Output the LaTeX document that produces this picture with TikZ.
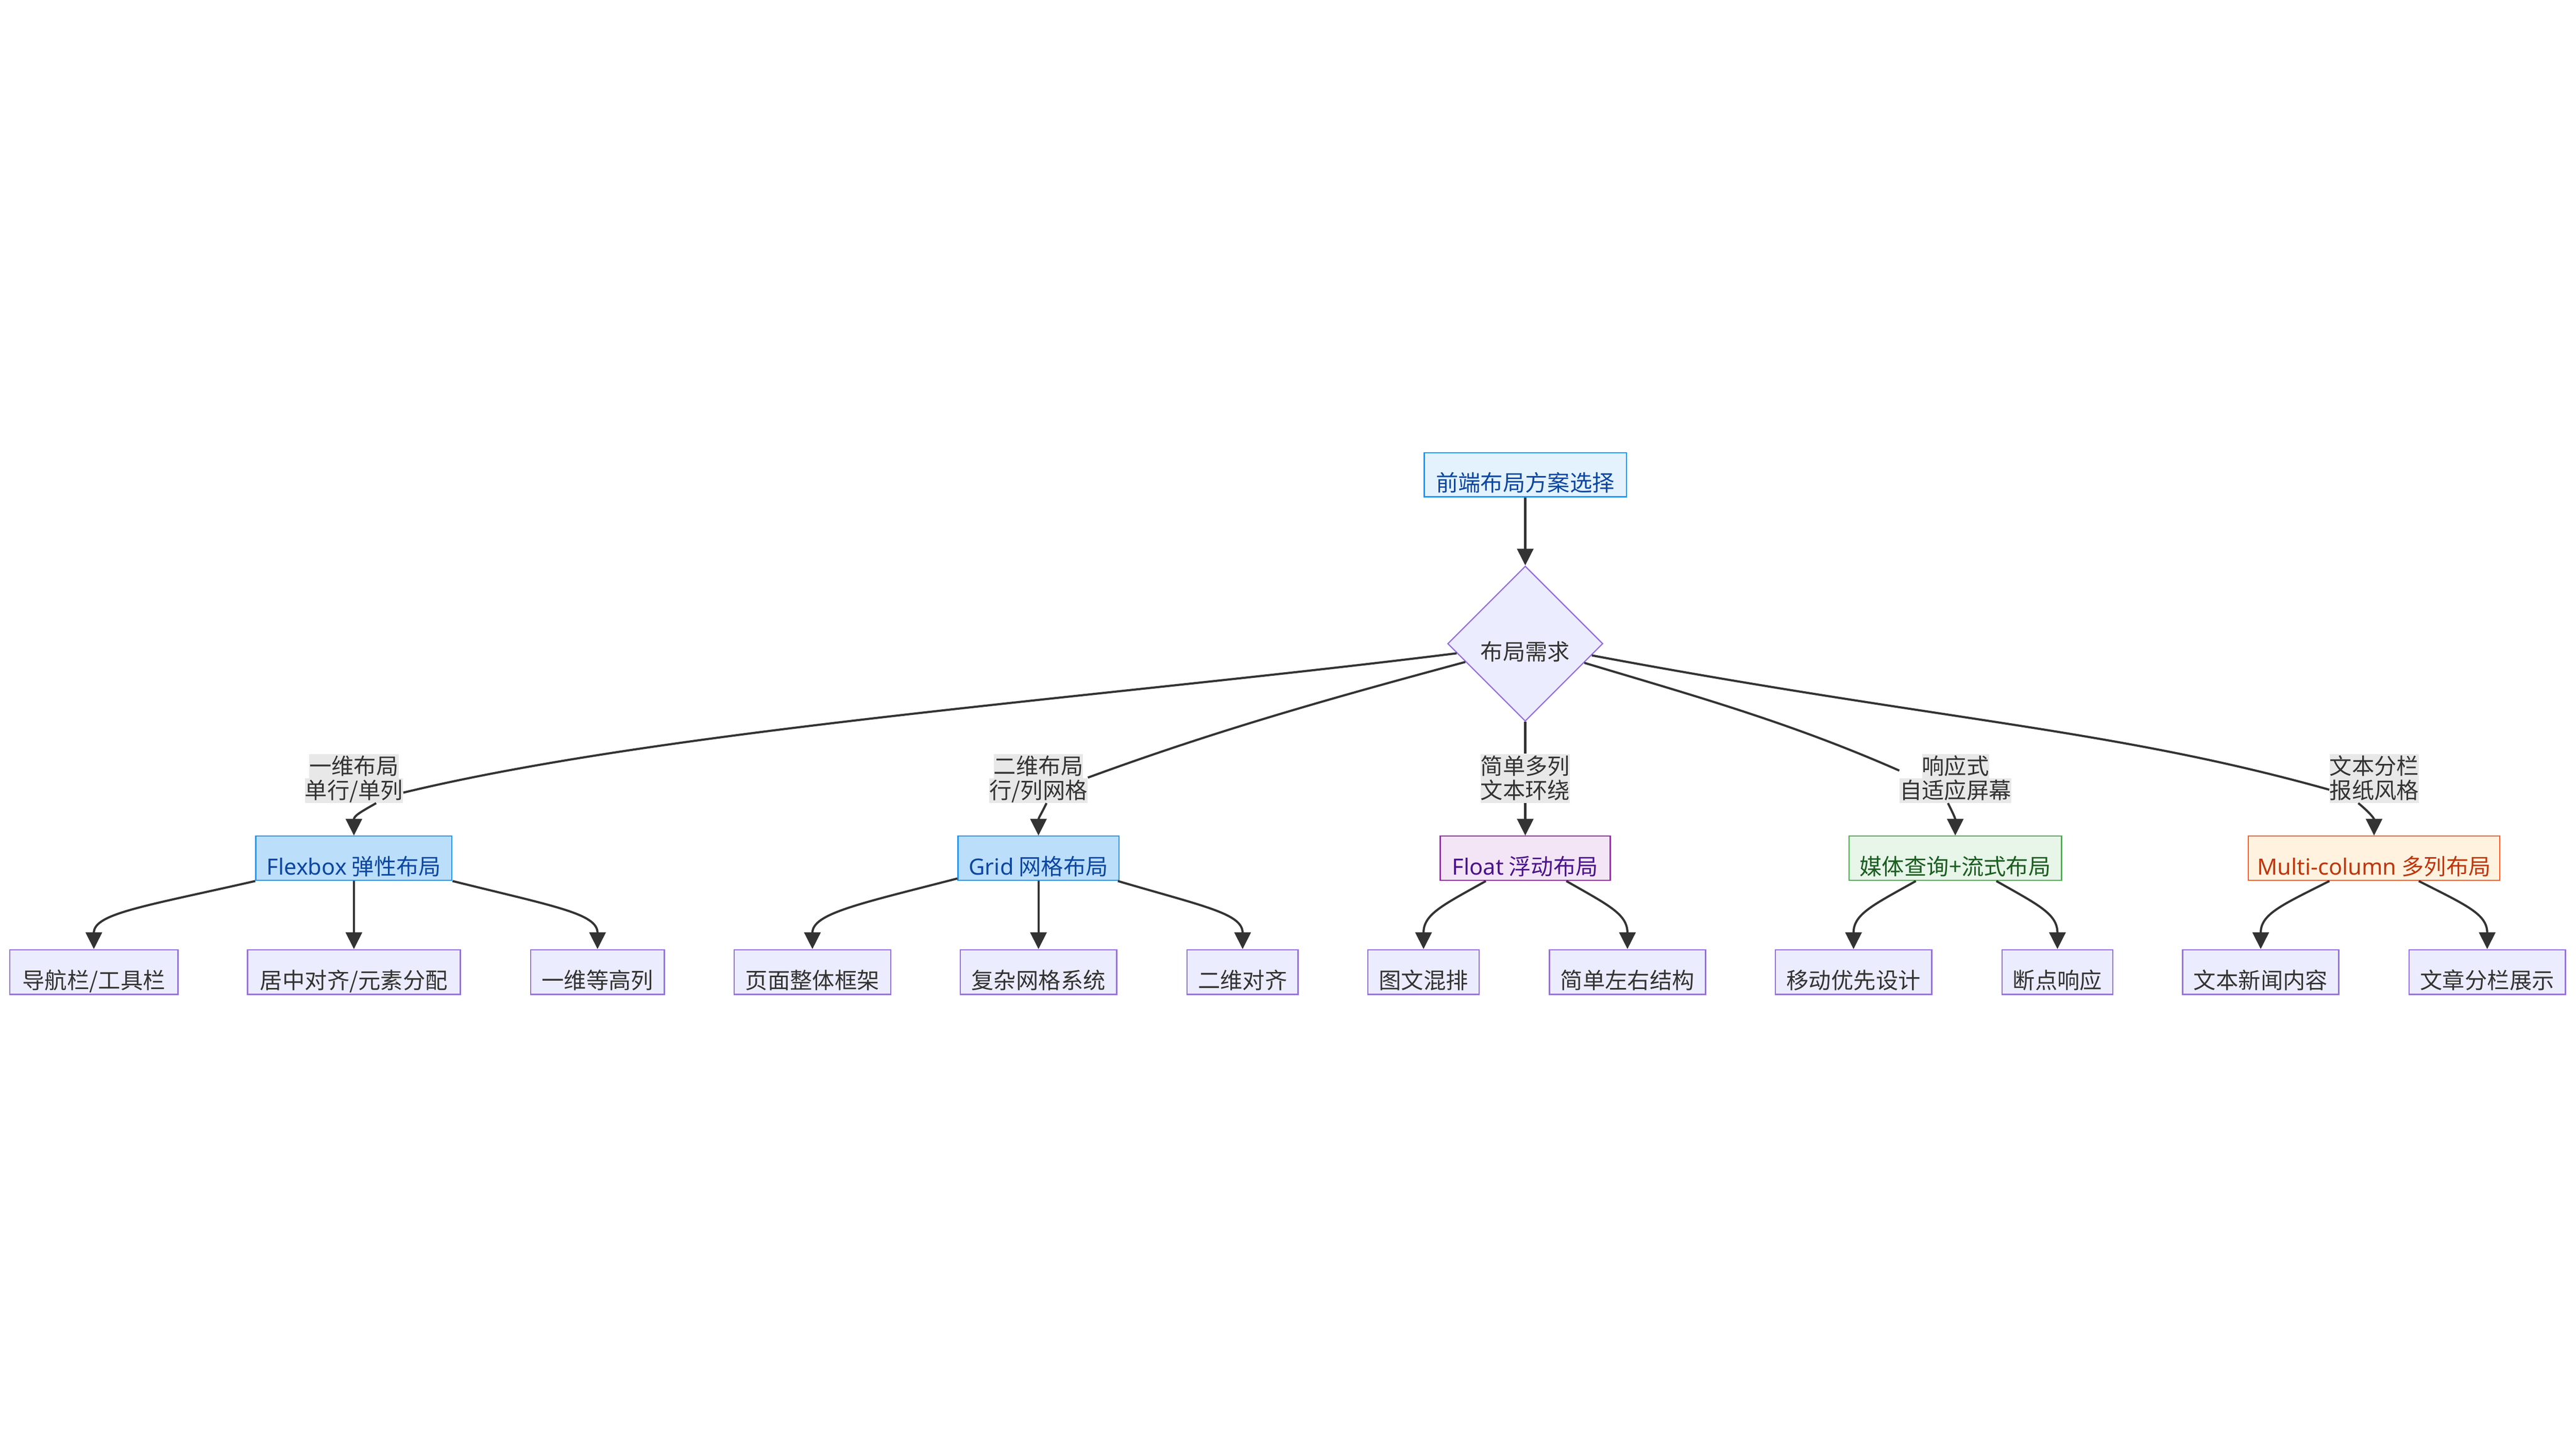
\documentclass[tikz,border=0pt]{standalone}
\usepackage{fontspec}
\setmainfont{Noto Sans CJK SC}
\newfontfamily\latinfont{Noto Sans}
\usetikzlibrary{shapes.geometric, arrows.meta}
\definecolor{inkgray}{HTML}{333333}
\definecolor{nodefill}{HTML}{ECECFF}
\definecolor{nodeline}{HTML}{9370DB}
\definecolor{rootfill}{HTML}{E3F2FD}
\definecolor{bluefill}{HTML}{BBDEFB}
\definecolor{blueline}{HTML}{2196F3}
\definecolor{bluetext}{HTML}{0D47A1}
\definecolor{purplefill}{HTML}{F3E5F5}
\definecolor{purpleline}{HTML}{9C27B0}
\definecolor{purpletext}{HTML}{4A148C}
\definecolor{greenfill}{HTML}{E8F5E9}
\definecolor{greenline}{HTML}{4CAF50}
\definecolor{greentext}{HTML}{1B5E20}
\definecolor{orangefill}{HTML}{FFF3E0}
\definecolor{orangeline}{HTML}{FF5722}
\definecolor{orangetext}{HTML}{BF360C}
\definecolor{labelbg}{HTML}{E8E8E8}
\setlength{\fboxsep}{0pt}
\newcommand{\lblrow}[1]{\colorbox{labelbg}{\rule[-0.09cm]{0pt}{0.555cm}#1}}

\begin{document}
\begin{tikzpicture}[
  box/.style={draw=nodeline, fill=nodefill, text=inkgray, line width=0.8pt, minimum height=1.02cm,
    inner xsep=0.2cm, inner ysep=0pt, text height=0.75cm, text depth=0pt, font=\fontsize{14.5pt}{17pt}\selectfont},
  bluebox/.style={box, draw=blueline, fill=bluefill, text=bluetext, minimum height=1.01cm},
  purplebox/.style={box, draw=purpleline, fill=purplefill, text=purpletext, minimum height=1.01cm},
  greenbox/.style={box, draw=greenline, fill=greenfill, text=greentext, minimum height=1.01cm},
  orangebox/.style={box, draw=orangeline, fill=orangefill, text=orangetext, minimum height=1.01cm},
  decision/.style={box, diamond, aspect=1, minimum width=3.54cm, minimum height=3.54cm, inner sep=0pt},
  edgelbl/.style={inner sep=0pt, align=center, text=inkgray, font=\fontsize{14.5pt}{15.8pt}\selectfont},
  edge/.style={draw=inkgray, line width=1.4pt},
  arrow/.style={edge, -{Triangle[length=0.38cm, width=0.37cm]}},
]
  \useasboundingbox (0,0) rectangle (58.74,-33.06);

  % Root and decision
  \node[box, draw=blueline, fill=rootfill, text=bluetext, minimum width=4.61cm, minimum height=1.00cm] (root) at (34.78,-10.83) {前端布局方案选择};
  \node[decision] (need) at (34.78,-14.68) {布局需求};

  % Edge labels
  \node[edgelbl] (lbflex) at (8.07,-17.755) {\lblrow{一维布局}\\\lblrow{单行/单列}};
  \node[edgelbl] (lbgrid) at (23.68,-17.755) {\lblrow{二维布局}\\\lblrow{行/列网格}};
  \node[edgelbl] (lbfloat) at (34.78,-17.755) {\lblrow{简单多列}\\\lblrow{文本环绕}};
  \node[edgelbl] (lbmedia) at (44.59,-17.755) {\lblrow{响应式}\\\lblrow{自适应屏幕}};
  \node[edgelbl] (lbmulti) at (54.14,-17.755) {\lblrow{文本分栏}\\\lblrow{报纸风格}};

  % Layout schemes
  \node[bluebox, minimum width=4.47cm] (flex) at (8.07,-19.575) {{\latinfont Flexbox} 弹性布局};
  \node[bluebox, minimum width=3.67cm] (grid) at (23.68,-19.575) {{\latinfont Grid} 网格布局};
  \node[purplebox, minimum width=3.88cm] (float) at (34.78,-19.575) {{\latinfont Float} 浮动布局};
  \node[greenbox, minimum width=4.85cm] (media) at (44.585,-19.575) {媒体查询+流式布局};
  \node[orangebox, minimum width=5.71cm] (multi) at (54.135,-19.575) {{\latinfont Multi-column} 多列布局};

  % Use cases
  \node[box, minimum width=3.84cm] (nav) at (2.14,-22.17) {导航栏/工具栏};
  \node[box, minimum width=4.85cm] (center) at (8.07,-22.17) {居中对齐/元素分配};
  \node[box, minimum width=3.05cm] (eqcol) at (13.625,-22.17) {一维等高列};
  \node[box, minimum width=3.57cm] (page) at (18.525,-22.17) {页面整体框架};
  \node[box, minimum width=3.57cm] (gridsys) at (23.68,-22.17) {复杂网格系统};
  \node[box, minimum width=2.53cm] (align2d) at (28.335,-22.17) {二维对齐};
  \node[box, minimum width=2.54cm] (imgtext) at (32.46,-22.17) {图文混排};
  \node[box, minimum width=3.56cm] (leftright) at (37.11,-22.17) {简单左右结构};
  \node[box, minimum width=3.57cm] (mobile) at (42.265,-22.17) {移动优先设计};
  \node[box, minimum width=2.53cm] (breakpt) at (46.915,-22.17) {断点响应};
  \node[box, minimum width=3.56cm] (news) at (51.55,-22.17) {文本新闻内容};
  \node[box, minimum width=3.57cm] (article) at (56.715,-22.17) {文章分栏展示};

  % Connectors from the top
  \draw[arrow] (root) -- (need);
  \draw[edge] (need.188) .. controls +(-8,-1) and +(6,1.45) .. (lbflex.344);
  \draw[arrow] (lbflex.-48) .. controls +(-0.35,-0.2) and +(0,0.45) .. (flex.north);
  \draw[edge] (need.197) .. controls +(-3,-0.81) and +(3,1.1) .. (lbgrid.1);
  \draw[arrow] (lbgrid.288) .. controls +(-0.12,-0.25) and +(0,0.4) .. (grid.north);
  \draw[edge] (need) -- (lbfloat);
  \draw[arrow] (lbfloat) -- (float);
  \draw[edge] (need.342) .. controls +(2.5,-0.75) and +(-2.5,1.1) .. (lbmedia.172);
  \draw[arrow] (lbmedia.253) .. controls +(0.1,-0.2) and +(0,0.4) .. (media.north);
  \draw[edge] (need.350) .. controls +(8,-1.5) and +(-5,1.4) .. (lbmulti.194);
  \draw[arrow] (lbmulti.237) .. controls +(0.22,-0.18) and +(0,0.4) .. (multi.north);

  % Connectors to the use cases
  \draw[arrow] (flex.193) .. controls +(-2.55,-0.58) and +(0,0.81) .. (nav.north);
  \draw[arrow] (flex) -- (center);
  \draw[arrow] (flex.347) .. controls +(2.33,-0.58) and +(0,0.81) .. (eqcol.north);
  \draw[arrow] (grid.194) .. controls +(-2.25,-0.58) and +(0,0.81) .. (page.north);
  \draw[arrow] (grid) -- (gridsys);
  \draw[arrow] (grid.344) .. controls +(1.97,-0.58) and +(0,0.81) .. (align2d.north);
  \draw[arrow] (float.210) .. controls +(-0.98,-0.55) and +(0,0.8) .. (imgtext.north);
  \draw[arrow] (float.331) .. controls +(0.96,-0.55) and +(0,0.8) .. (leftright.north);
  \draw[arrow] (media.210) .. controls +(-0.98,-0.55) and +(0,0.8) .. (mobile.north);
  \draw[arrow] (media.331) .. controls +(0.97,-0.55) and +(0,0.8) .. (breakpt.north);
  \draw[arrow] (multi.207) .. controls +(-1.09,-0.55) and +(0,0.8) .. (news.north);
  \draw[arrow] (multi.333) .. controls +(1.08,-0.55) and +(0,0.8) .. (article.north);
\end{tikzpicture}
\end{document}
